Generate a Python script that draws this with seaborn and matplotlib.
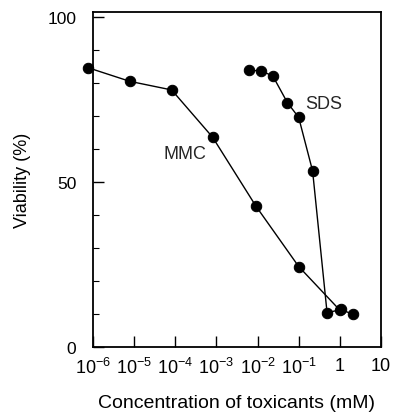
import matplotlib
matplotlib.use("Agg")
import matplotlib.pyplot as plt
import numpy as np
import pandas as pd
import seaborn as sns
from matplotlib.ticker import MultipleLocator, LogLocator, NullFormatter

# data (concentration in mM, viability in %)
mmc_conc = [7.7e-7, 7.9e-6, 8.2e-5, 8.1e-4, 9.1e-3, 0.1, 1.0]
mmc_viab = [84.5, 80.4, 77.8, 63.5, 42.7, 24.4, 11.2]

sds_conc = [0.0062, 0.0122, 0.0236, 0.053, 0.10, 0.218, 0.49, 1.07, 2.1]
sds_viab = [83.7, 83.6, 82.0, 74.0, 69.5, 53.3, 10.4, 11.4, 9.9]

decades = [1e-6, 1e-5, 1e-4, 1e-3, 1e-2, 1e-1, 1, 10]
decade_labels = [r"$10^{-6}$", r"$10^{-5}$", r"$10^{-4}$", r"$10^{-3}$",
                 r"$10^{-2}$", r"$10^{-1}$", "1", "10"]

df = pd.concat([
    pd.DataFrame({"conc": mmc_conc, "viab": mmc_viab, "agent": "MMC"}),
    pd.DataFrame({"conc": sds_conc, "viab": sds_viab, "agent": "SDS"}),
])

sns.set_style("ticks")
plt.rcParams["font.family"] = ["Liberation Sans", "DejaVu Sans"]
plt.rcParams["mathtext.default"] = "regular"

fig = plt.figure(figsize=(4.04, 4.14), dpi=100)
ax = fig.add_axes([0.230, 0.159, 0.713, 0.809])

sns.lineplot(data=df, x="conc", y="viab", hue="agent",
             palette={"MMC": "black", "SDS": "black"},
             marker="o", markersize=7.5, markeredgecolor="black",
             linewidth=1.0, errorbar=None, legend=False, ax=ax,
             clip_on=False, zorder=3)

ax.set_xscale("log")
ax.set_xlim(1e-6, 10)
ax.set_ylim(0, 101.3)

ax.set_xticks(decades)
ax.set_xticklabels(decade_labels)
ax.xaxis.set_minor_locator(LogLocator(base=10, subs=np.arange(2, 10)))
ax.xaxis.set_minor_formatter(NullFormatter())
ax.set_yticks([0, 50, 100])
ax.yaxis.set_minor_locator(MultipleLocator(10))

ax.tick_params(axis="both", which="both", direction="in", color="black",
               labelcolor="black", bottom=True, left=True, top=False, right=False)
ax.tick_params(axis="x", which="major", length=8, width=1.0, labelsize=13, pad=7)
ax.tick_params(axis="x", which="minor", length=4, width=0.8)
ax.tick_params(axis="y", which="major", length=8, width=1.0, labelsize=12.5, pad=12)
ax.tick_params(axis="y", which="minor", length=4, width=0.8)

for s in ax.spines.values():
    s.set_linewidth(1.3)
    s.set_color("black")

ax.set_xlabel("Concentration of toxicants (mM)", fontsize=14, color="black")
ax.set_ylabel("Viability (%)", fontsize=13, color="black")
ax.xaxis.set_label_coords(0.5, -0.14)
ax.yaxis.set_label_coords(-0.215, 0.5)

ax.text(0.4, 73.6, "SDS", fontsize=13, ha="center", va="center")
ax.text(1.74e-4, 58.7, "MMC", fontsize=13, ha="center", va="center")

fig.savefig("out.png", dpi=100)
